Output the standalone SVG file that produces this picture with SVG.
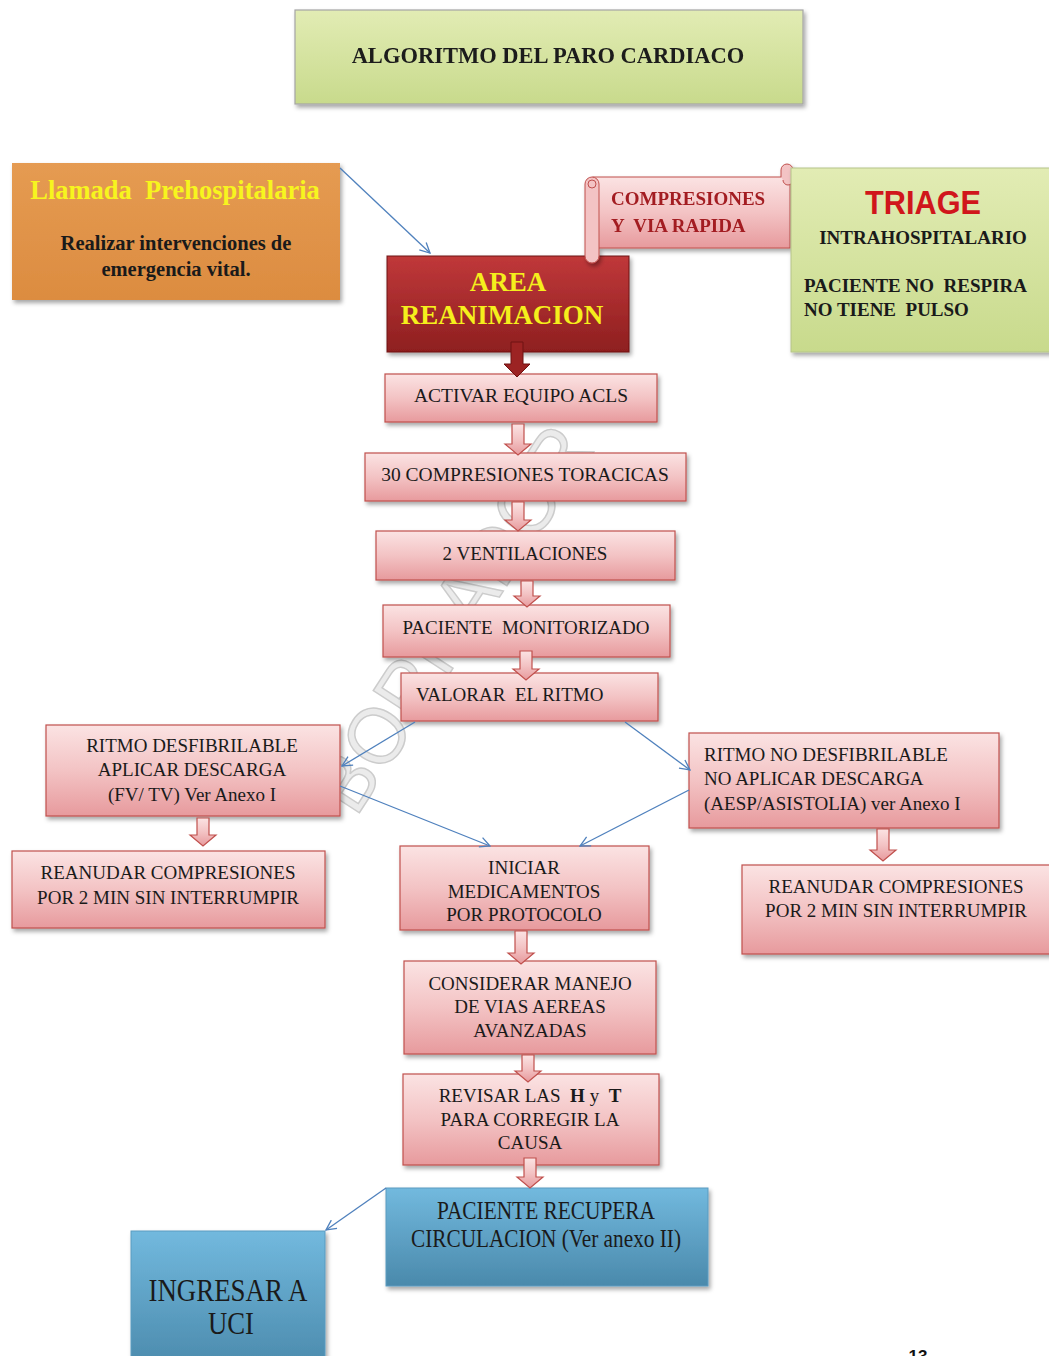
<svg xmlns="http://www.w3.org/2000/svg" width="1049" height="1356" viewBox="0 0 1049 1356">
<style>
.t{font-family:"Liberation Serif","Times New Roman",serif;font-size:19px;fill:#1a1a1a;text-anchor:middle;white-space:pre}
.tl{text-anchor:start}
.b{font-weight:bold}
.pink{fill:url(#gPink);stroke:#c0504d;stroke-width:1.2}
.blue{fill:url(#gBlue);stroke:#5b9bc0;stroke-width:1}
.bl{fill:none;stroke:#4f81bd;stroke-width:1.3;marker-end:url(#mV)}
.ba{fill:url(#gPink);stroke:#c0504d;stroke-width:1.2}
</style>
<defs>
<linearGradient id="gPink" x1="0" y1="0" x2="0" y2="1"><stop offset="0" stop-color="#fbe3e3"/><stop offset="0.5" stop-color="#f3c3c4"/><stop offset="1" stop-color="#e79a9d"/></linearGradient>
<linearGradient id="gRed" x1="0" y1="0" x2="0" y2="1"><stop offset="0" stop-color="#c0383a"/><stop offset="1" stop-color="#8e1f1f"/></linearGradient>
<linearGradient id="gBlue" x1="0" y1="0" x2="0" y2="1"><stop offset="0" stop-color="#72b9de"/><stop offset="1" stop-color="#4a89ab"/></linearGradient>
<linearGradient id="gGreen" x1="0" y1="0" x2="0" y2="1"><stop offset="0" stop-color="#e2ecb4"/><stop offset="1" stop-color="#c8da8c"/></linearGradient>
<linearGradient id="gOrange" x1="0" y1="0" x2="0" y2="1"><stop offset="0" stop-color="#e59b52"/><stop offset="1" stop-color="#dc8c40"/></linearGradient>
<filter id="sh" x="-10%" y="-10%" width="125%" height="130%"><feDropShadow dx="2" dy="3" stdDeviation="2" flood-color="#000" flood-opacity="0.35"/></filter>
<marker id="mV" viewBox="0 0 12 12" refX="11" refY="6" markerWidth="12" markerHeight="12" markerUnits="userSpaceOnUse" orient="auto"><polyline points="1,1 11,6 1,11" fill="none" stroke="#4f81bd" stroke-width="1.3"/></marker>
</defs>
<rect width="1049" height="1356" fill="#ffffff"/>

<!-- watermark -->
<text x="0" y="0" transform="translate(356,818) rotate(-57)" font-family="Liberation Sans,Arial,sans-serif" font-size="80" fill="#ebebeb" stroke="#cccccc" stroke-width="1.5" textLength="440" lengthAdjust="spacingAndGlyphs">BORRADOR</text>

<g id="title" filter="url(#sh)">
<rect x="295" y="10" width="508" height="94" fill="url(#gGreen)" stroke="#a5a5a5" stroke-width="1.2"/>
<text class="t b" x="548" y="63" style="font-size:22.5px">ALGORITMO DEL PARO CARDIACO</text>
</g>

<g id="llamada">
<rect x="12" y="163" width="328" height="137" fill="url(#gOrange)" filter="url(#sh)"/>
<text class="t b" x="175" y="199" style="font-size:26.5px;fill:#f7f51e">Llamada  Prehospitalaria</text>
<text class="t b" x="176" y="250" style="font-size:20.5px">Realizar intervenciones de</text>
<text class="t b" x="176" y="276" style="font-size:20.5px">emergencia vital.</text>
</g>

<g id="area">
<rect x="387" y="256" width="242" height="96" fill="url(#gRed)" stroke="#6e1212" stroke-width="1" filter="url(#sh)"/>
<text class="t b" x="508" y="291" style="font-size:27px;fill:#f5ef1c">AREA</text>
<text class="t b" x="502" y="324" style="font-size:27px;fill:#f5ef1c">REANIMACION</text>
</g>

<g id="compresiones" filter="url(#sh)">
<rect x="593" y="177" width="197" height="71" fill="url(#gPink)" stroke="#c0504d" stroke-width="1"/>
<rect x="585" y="177" width="14" height="86" rx="7" fill="#f3c3c4" stroke="#c0504d" stroke-width="1"/>
<circle cx="592" cy="184" r="4" fill="none" stroke="#c0504d" stroke-width="1"/>
<path d="M781,177 V170 a6,6 0 0 1 12,0 V180 a5,5 0 0 1 -10,0" fill="#f3c3c4" stroke="#c0504d" stroke-width="1"/>
<text class="t b tl" x="611" y="205" style="fill:#a31f22">COMPRESIONES</text>
<text class="t b tl" x="611" y="232" style="fill:#a31f22">Y  VIA RAPIDA</text>
</g>

<g id="triage">
<rect x="791" y="168" width="262" height="184" fill="url(#gGreen)" stroke="#b5c48a" stroke-width="1" filter="url(#sh)"/>
<text x="923" y="214" font-family="Liberation Sans,Arial,sans-serif" font-weight="bold" font-size="33" fill="#d0161b" text-anchor="middle" textLength="116" lengthAdjust="spacingAndGlyphs">TRIAGE</text>
<text class="t b" x="923" y="244">INTRAHOSPITALARIO</text>
<text class="t b tl" x="804" y="292">PACIENTE NO  RESPIRA</text>
<text class="t b tl" x="804" y="316">NO TIENE  PULSO</text>
</g>

<g id="activar"><rect class="pink" x="385" y="374" width="272" height="48" filter="url(#sh)"/><text class="t" x="521" y="402" style="font-size:19.5px">ACTIVAR EQUIPO ACLS</text></g>
<g id="compresiones30"><rect class="pink" x="365" y="453" width="321" height="48" filter="url(#sh)"/><text class="t" x="525" y="481" style="font-size:19.5px">30 COMPRESIONES TORACICAS</text></g>
<g id="ventilaciones"><rect class="pink" x="376" y="531" width="299" height="49" filter="url(#sh)"/><text class="t" x="525" y="560">2 VENTILACIONES</text></g>
<g id="monitorizado"><rect class="pink" x="383" y="605" width="287" height="52" filter="url(#sh)"/><text class="t" x="526" y="634">PACIENTE  MONITORIZADO</text></g>
<g id="valorar"><rect class="pink" x="401" y="673" width="257" height="48" filter="url(#sh)"/><text class="t tl" x="416" y="701">VALORAR  EL RITMO</text></g>

<g id="desfibrilable"><rect class="pink" x="46" y="725" width="294" height="91" filter="url(#sh)"/>
<text class="t" x="192" y="752">RITMO DESFIBRILABLE</text>
<text class="t" x="192" y="776">APLICAR DESCARGA</text>
<text class="t" x="192" y="801">(FV/ TV) Ver Anexo I</text></g>

<g id="reanudar1"><rect class="pink" x="12" y="851" width="313" height="77" filter="url(#sh)"/>
<text class="t" x="168" y="879">REANUDAR COMPRESIONES</text>
<text class="t" x="168" y="904">POR 2 MIN SIN INTERRUMPIR</text></g>

<g id="nodesfibrilable"><rect class="pink" x="689" y="733" width="310" height="95" filter="url(#sh)"/>
<text class="t tl" x="704" y="761">RITMO NO DESFIBRILABLE</text>
<text class="t tl" x="704" y="785">NO APLICAR DESCARGA</text>
<text class="t tl" x="704" y="810">(AESP/ASISTOLIA) ver Anexo I</text></g>

<g id="reanudar2"><rect class="pink" x="742" y="865" width="310" height="89" filter="url(#sh)"/>
<text class="t" x="896" y="893">REANUDAR COMPRESIONES</text>
<text class="t" x="896" y="917">POR 2 MIN SIN INTERRUMPIR</text></g>

<g id="iniciar"><rect class="pink" x="400" y="846" width="249" height="84" filter="url(#sh)"/>
<text class="t" x="524" y="874">INICIAR</text>
<text class="t" x="524" y="898">MEDICAMENTOS</text>
<text class="t" x="524" y="921">POR PROTOCOLO</text></g>

<g id="considerar"><rect class="pink" x="404" y="961" width="252" height="93" filter="url(#sh)"/>
<text class="t" x="530" y="990">CONSIDERAR MANEJO</text>
<text class="t" x="530" y="1013">DE VIAS AEREAS</text>
<text class="t" x="530" y="1037">AVANZADAS</text></g>

<g id="revisar"><rect class="pink" x="403" y="1074" width="256" height="91" filter="url(#sh)"/>
<text class="t" x="530" y="1102">REVISAR LAS  <tspan font-weight="bold">H</tspan> y  <tspan font-weight="bold">T</tspan></text>
<text class="t" x="530" y="1126">PARA CORREGIR LA</text>
<text class="t" x="530" y="1149">CAUSA</text></g>

<g id="recupera"><rect class="blue" x="386" y="1188" width="322" height="98" filter="url(#sh)"/>
<text class="t" x="546" y="1219" style="font-size:25px" textLength="218" lengthAdjust="spacingAndGlyphs">PACIENTE RECUPERA</text>
<text class="t" x="546" y="1247" style="font-size:25px" textLength="270" lengthAdjust="spacingAndGlyphs">CIRCULACION (Ver anexo II)</text></g>

<g id="uci"><rect class="blue" x="131" y="1231" width="194" height="140" filter="url(#sh)"/>
<text class="t" x="228" y="1301" style="font-size:32px" textLength="159" lengthAdjust="spacingAndGlyphs">INGRESAR A</text>
<text class="t" x="231" y="1334" style="font-size:32px" textLength="46" lengthAdjust="spacingAndGlyphs">UCI</text></g>

<text x="918" y="1362" font-family="Liberation Sans,Arial,sans-serif" font-weight="bold" font-size="17" fill="#111" text-anchor="middle">13</text>

<g id="connectors">
<line class="bl" x1="340" y1="168" x2="430" y2="253"/>
<line class="bl" x1="415" y1="722" x2="342" y2="766"/>
<line class="bl" x1="625" y1="722" x2="690" y2="770"/>
<line class="bl" x1="340" y1="786" x2="490" y2="846"/>
<line class="bl" x1="689" y1="790" x2="580" y2="846"/>
<line class="bl" x1="386" y1="1188" x2="326" y2="1230"/>
<path d="M511,342 H523 V364 H530 L517,377 L504,364 H511 Z" fill="#9c2323" stroke="#6e1212" stroke-width="1"/>
<path class="ba" d="M512,424 H524 V444 H531 L518,455 L505,444 H512 Z"/>
<path class="ba" d="M512,502 H524 V520 H531 L518,531 L505,520 H512 Z"/>
<path class="ba" d="M521,581 H533 V596 H540 L527,607 L514,596 H521 Z"/>
<path class="ba" d="M520,651 H532 V669 H539 L526,680 L513,669 H520 Z"/>
<path class="ba" d="M197,818 H209 V835 H216 L203,846 L190,835 H197 Z"/>
<path class="ba" d="M877,829 H889 V850 H896 L883,861 L870,850 H877 Z"/>
<path class="ba" d="M515,931 H527 V953 H534 L521,964 L508,953 H515 Z"/>
<path class="ba" d="M522,1055 H534 V1071 H541 L528,1082 L515,1071 H522 Z"/>
<path class="ba" d="M524,1158 H536 V1177 H543 L530,1188 L517,1177 H524 Z"/>
</g>
</svg>
